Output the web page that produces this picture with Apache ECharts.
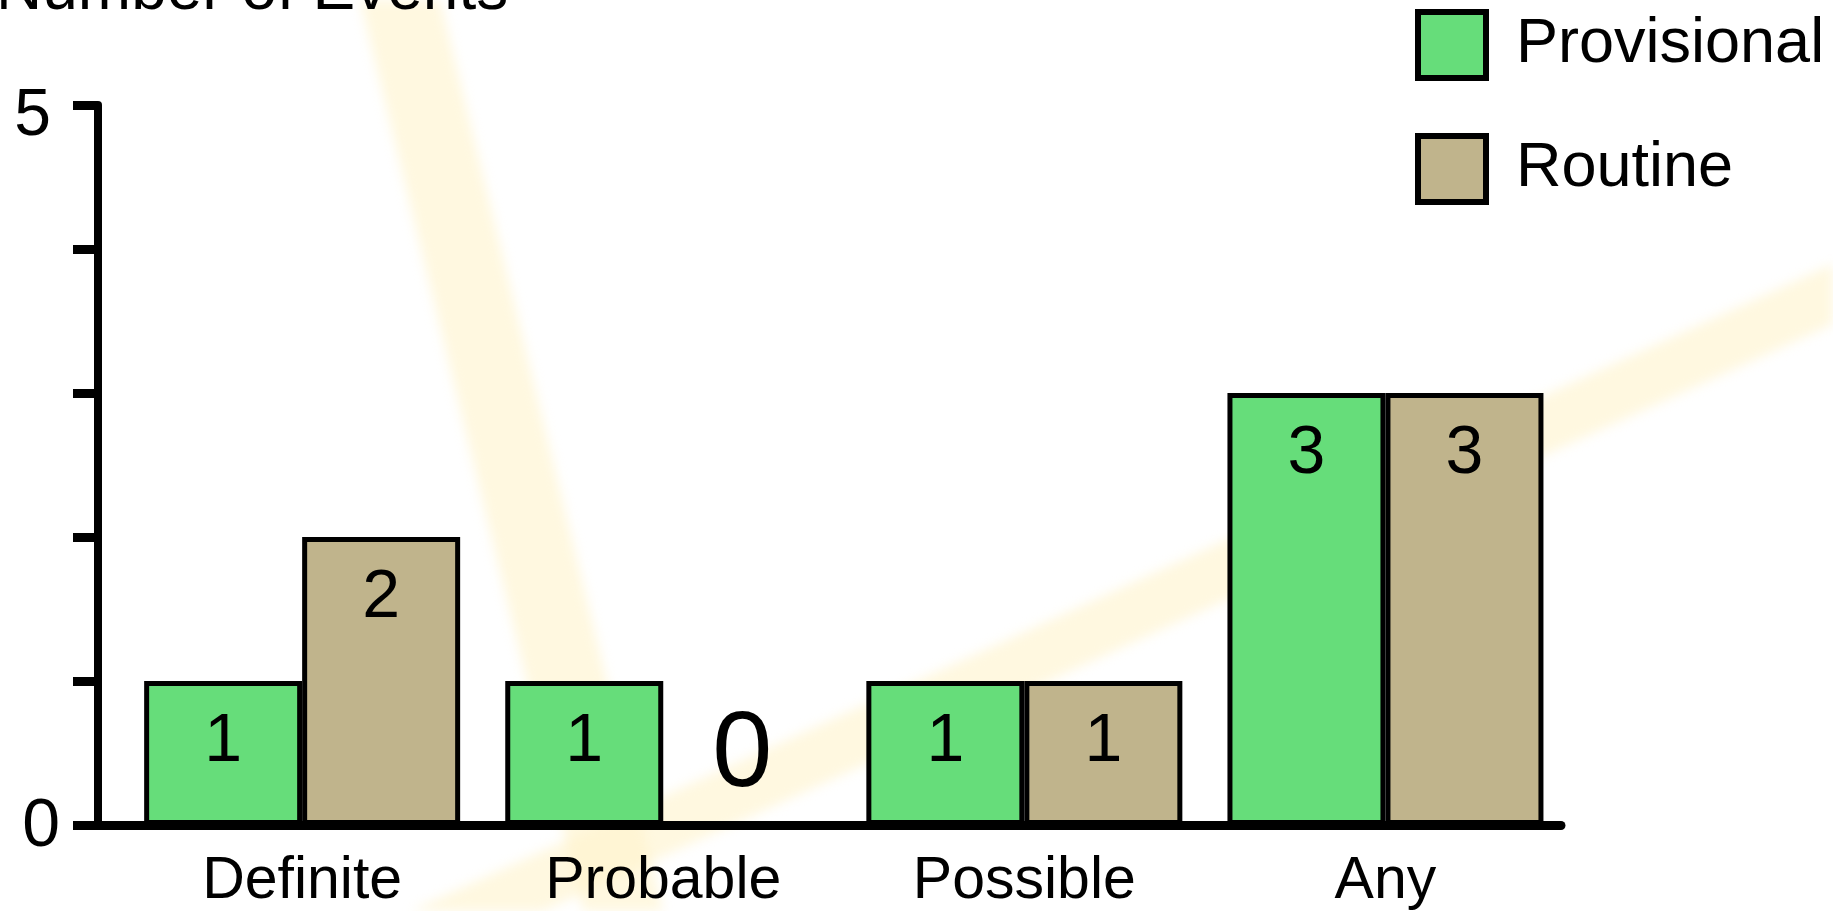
<!DOCTYPE html>
<html>
<head>
<meta charset="utf-8">
<title>Number of Events</title>
<script src="https://cdn.jsdelivr.net/npm/echarts@6/dist/echarts.min.js"></script>
<style>
  html, body { margin: 0; padding: 0; background: #ffffff; }
  #wrap { position: relative; width: 1833px; height: 911px; overflow: hidden; background: #ffffff; }
  #rays { position: absolute; left: 0; top: 0; width: 1833px; height: 911px; filter: blur(6px); }
  #chart { position: absolute; left: 0; top: 0; width: 1833px; height: 911px; }
</style>
</head>
<body>
<div id="wrap">
  <!-- soft light rays behind the plot -->
  <svg id="rays" width="1833" height="911" viewBox="0 0 1833 911" xmlns="http://www.w3.org/2000/svg">
    <polygon points="360,0 440,0 663,911 583,911" fill="#FFF3CC" fill-opacity="0.6"/>
    <polygon points="1833,264 1833,324 400,976 400,916" fill="#FFF3CC" fill-opacity="0.6"/>
  </svg>
  <div id="chart"></div>
</div>
<script>
// Event counts per classification
const categories = ['Definite', 'Probable', 'Possible', 'Any'];
const provisional = [1, 1, 1, 3];
const routine = [2, 0, 1, 3];
const seriesNames = ['Provisional', 'Routine'];
const yLabelled = [0, 5];

const FONT = '"Liberation Sans", Arial, Helvetica, sans-serif';
const GREEN = '#66DD7A';
const TAN = '#C0B48C';

function withZeroLabels(values) {
  return values.map(v => v === 0
    ? { value: v, label: { position: 'top', fontSize: 108, distance: 12 } }
    : v);
}

const barLabel = {
  show: true,
  position: 'insideTop',
  distance: 27,
  fontSize: 68,
  color: '#000',
  fontFamily: FONT
};

const chart = echarts.init(document.getElementById('chart'), null, { renderer: 'canvas' });

chart.setOption({
  backgroundColor: 'transparent',
  animation: false,
  textStyle: { fontFamily: FONT, color: '#000' },
  title: {
    text: 'Number of Events',
    left: -4,
    top: -41,
    padding: 0,
    textStyle: { fontSize: 64, fontWeight: 'normal', color: '#000', fontFamily: FONT }
  },
  legend: {
    data: seriesNames,
    orient: 'vertical',
    left: 1415,
    top: 9,
    padding: 0,
    itemWidth: 68,
    itemHeight: 66,
    itemGap: 52,
    icon: 'rect',
    itemStyle: { borderColor: '#000', borderWidth: 6 },
    textStyle: { fontSize: 63, color: '#000', fontFamily: FONT, padding: [0, 0, 0, 25] }
  },
  grid: [
    { left: 121.6, right: 267, top: 105, bottom: 86 },
    { left: 98, right: 272, top: 105, bottom: 86 }
  ],
  xAxis: [
    {
      type: 'category',
      gridIndex: 0,
      data: categories,
      axisLine: { show: false },
      axisTick: { show: false },
      axisLabel: { fontSize: 59, color: '#000', margin: 27, fontFamily: FONT }
    },
    {
      type: 'category',
      gridIndex: 1,
      data: categories,
      axisLine: { show: true, lineStyle: { color: '#000', width: 9 } },
      axisTick: { show: false },
      axisLabel: { show: false }
    }
  ],
  yAxis: [
    {
      type: 'value',
      gridIndex: 0,
      min: 0,
      max: 5,
      interval: 1,
      show: false,
      splitLine: { show: false }
    },
    {
      type: 'value',
      gridIndex: 1,
      min: 0,
      max: 5,
      interval: 1,
      splitLine: { show: false },
      axisLine: { show: true, lineStyle: { color: '#000', width: 8 } },
      axisTick: { show: true, length: 25, lineStyle: { color: '#000', width: 9 } },
      axisLabel: {
        margin: 38,
        color: '#000',
        fontSize: 66,
        fontFamily: FONT,
        formatter: v => {
          if (!yLabelled.includes(v)) return '';
          return v === Math.max(...yLabelled) ? '{hi|' + v + '}' : '{lo|' + v + '}';
        },
        rich: {
          hi: { fontSize: 66, fontFamily: FONT, color: '#000', padding: [24, 9, 0, 0] },
          lo: { fontSize: 68, fontFamily: FONT, color: '#000', padding: [4, 0, 0, 0] }
        }
      }
    }
  ],
  series: [
    {
      name: seriesNames[0],
      type: 'bar',
      xAxisIndex: 0,
      yAxisIndex: 0,
      data: withZeroLabels(provisional),
      barWidth: 158,
      barGap: '0%',
      itemStyle: { color: GREEN, borderColor: '#000', borderWidth: 5 },
      label: barLabel
    },
    {
      name: seriesNames[1],
      type: 'bar',
      xAxisIndex: 0,
      yAxisIndex: 0,
      data: withZeroLabels(routine),
      barWidth: 158,
      barGap: '0%',
      itemStyle: { color: TAN, borderColor: '#000', borderWidth: 5 },
      label: barLabel
    }
  ]
});
</script>
</body>
</html>
